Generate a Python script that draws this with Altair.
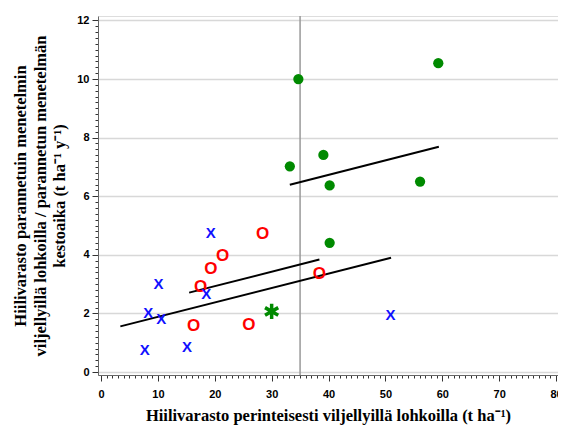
import altair as alt
import pandas as pd

# Green filled circles
green_x = [34.7, 33.2, 39.1, 40.2, 59.3, 56.1, 40.2]
green_y = [10.0, 7.02, 7.41, 6.37, 10.54, 6.50, 4.41]
# Green star
star_x = [30.0]
star_y = [2.07]
# Red "O" markers
red_x = [28.4, 21.4, 19.3, 17.5, 16.3, 26.0, 38.4]
red_y = [4.75, 4.0, 3.54, 2.93, 1.61, 1.63, 3.39]
# Blue "X" markers
blue_x = [19.3, 10.1, 8.3, 10.6, 18.5, 7.7, 15.1, 50.9]
blue_y = [4.77, 3.05, 2.06, 1.83, 2.71, 0.78, 0.88, 1.98]
# Trend lines (start and end points)
line_group = ["green", "green", "red", "red", "all", "all"]
line_x = [33.2, 59.4, 15.5, 38.4, 3.4, 51.0]
line_y = [6.39, 7.69, 2.71, 3.84, 1.56, 3.90]
# Vertical reference line
ref_x = [35]

x_title = "Hiilivarasto perinteisesti viljellyillä lohkoilla (t ha⁻¹)"
y_title = ["Hiilivarasto parannetuin menetelmin",
           "viljellyillä lohkoilla / parannetun menetelmän",
           "kestoaika (t ha⁻¹ y⁻¹)"]

x_ticks = list(range(0, 81))
y_ticks = [round(i * 0.2, 1) for i in range(0, 61)]

x_major = "datum.value % 10 == 0"
y_major = "abs(datum.value - round(datum.value)) < 0.001 && round(datum.value) % 2 == 0"

x_axis = alt.Axis(
    values=x_ticks, title=x_title, labelExpr=f"{x_major} ? datum.label : ''",
    tickSize=alt.condition(x_major, alt.value(6), alt.value(3)),
    grid=False, labelOverlap=False, labelFlush=False,
    labelFont="Liberation Sans", labelFontWeight="bold", labelFontSize=11, labelColor="black",
    titleFont="Liberation Serif", titleFontWeight="bold", titleFontSize=16.5, titleColor="black",
    titlePadding=8, labelPadding=7, domainColor="#666", tickColor="#333",
)
y_axis = alt.Axis(
    values=y_ticks, title=y_title, labelExpr=f"({y_major}) ? format(datum.value, 'd') : ''",
    tickSize=alt.condition(y_major, alt.value(6), alt.value(3)),
    grid=True, gridOpacity=alt.condition(y_major, alt.value(1), alt.value(0)),
    gridColor="#d8d8d8", gridWidth=1.5,
    labelOverlap=False, labelFlush=False,
    labelFont="Liberation Sans", labelFontWeight="bold", labelFontSize=11, labelColor="black",
    titleFont="Liberation Serif", titleFontWeight="bold", titleFontSize=16.5, titleColor="black",
    titleLineHeight=19.5, titlePadding=9, labelPadding=3, domainColor="#666", tickColor="#333",
)

xs = alt.Scale(domain=[-0.53, 80.35], nice=False, zero=False)
ys = alt.Scale(domain=[-0.1, 12.15], nice=False, zero=False)


def enc(ch):
    return ch.encode(
        x=alt.X("x:Q", scale=xs, axis=x_axis),
        y=alt.Y("y:Q", scale=ys, axis=y_axis),
    )


ref = alt.Chart(pd.DataFrame({"x": ref_x})).mark_rule(color="#999999", strokeWidth=1.5).encode(
    x=alt.X("x:Q", scale=xs, axis=x_axis)
)

lines = enc(alt.Chart(pd.DataFrame({"x": line_x, "y": line_y, "g": line_group}))
            .mark_line(color="black", strokeWidth=2)).encode(detail="g:N")

green = enc(alt.Chart(pd.DataFrame({"x": green_x, "y": green_y}))
            .mark_circle(size=105, color="#008a00", opacity=1))

star_path = "M0,-1L0,1M-0.87,-0.5L0.87,0.5M-0.87,0.5L0.87,-0.5"
star = enc(alt.Chart(pd.DataFrame({"x": star_x, "y": star_y}))
           .mark_point(shape=star_path, size=230, color="#008a00", strokeWidth=3.5, filled=False, opacity=1))

red = enc(alt.Chart(pd.DataFrame({"x": red_x, "y": red_y}))
          .mark_text(text="O", font="Liberation Sans", fontWeight="bold", fontSize=17,
                     color="#ff0000", baseline="middle", align="center", dy=1))

blue = enc(alt.Chart(pd.DataFrame({"x": blue_x, "y": blue_y}))
           .mark_text(text="X", font="Liberation Sans", fontWeight="bold", fontSize=15,
                      color="#1010ff", baseline="middle", align="center", dy=1))

chart = alt.layer(ref, lines, green, star, red, blue).properties(
    width=460, height=359,
    autosize=alt.AutoSizeParams(type="none"),
    padding={"left": 90, "top": 8, "right": 0, "bottom": 50},
).configure_view(stroke="#777", strokeWidth=1.5).configure(background="white")

chart.save("out.html", embed_options={"renderer": "svg", "actions": False})
